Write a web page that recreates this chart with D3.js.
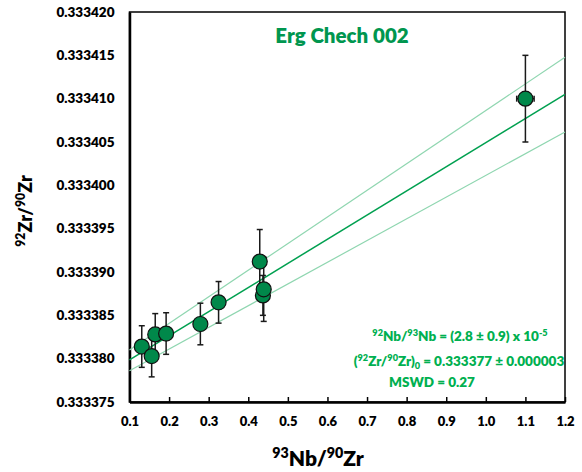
<!DOCTYPE html>
<html>
<head>
<meta charset="utf-8">
<script src="https://cdn.jsdelivr.net/npm/d3@7"></script>
<style>
  body { margin: 0; background: #fff; }
  svg { display: block; font-family: Lato, "Open Sans", sans-serif; font-weight: 800; }
</style>
</head>
<body>
<div id="chart"></div>
<script>
var width = 582;
var height = 472;
var margin = ({top: 12, right: 17, bottom: 70, left: 129.5});

// 93Nb/90Zr and 92Zr/90Zr of the analysed fractions
var nbZr = [0.131, 0.156, 0.165, 0.1925, 0.279, 0.325, 0.429, 0.437, 0.439, 1.10];
var nbErr = [0, 0, 0, 0, 0, 0, 0, 0, 0, 0.022];
var zrZr = [0.3333814, 0.3333803, 0.3333828, 0.3333829, 0.3333840, 0.3333865, 0.3333912, 0.3333873, 0.3333880, 0.3334100];
var zrErr = [0.0000024, 0.0000024, 0.0000024, 0.0000024, 0.0000024, 0.0000024, 0.0000037, 0.0000023, 0.0000037, 0.0000050];

// isochron and its envelope, at the two ends of the x axis
var fitX = [0.1, 1.2];
var fitY = [0.33337985, 0.3334105];
var upperY = [0.3333810, 0.33341477];
var lowerY = [0.3333786, 0.33340615];

var xTicks = [0.1, 0.2, 0.3, 0.4, 0.5, 0.6, 0.7, 0.8, 0.9, 1.0, 1.1, 1.2];
var yTicks = [0.333375, 0.333380, 0.333385, 0.333390, 0.333395, 0.333400, 0.333405, 0.333410, 0.333415, 0.333420];

var title = "Erg Chech 002";
var resultLines = [
  [["92", "sup"], ["Nb/", ""], ["93", "sup"], ["Nb = (2.8 ± 0.9) x 10", ""], ["-5", "sup"]],
  [["(", ""], ["92", "sup"], ["Zr/", ""], ["90", "sup"], ["Zr)", ""], ["0", "sub"], [" = 0.333377 ± 0.000003", ""]],
  [["MSWD = 0.27", ""]]
];

var x = d3.scaleLinear()
  .domain([0.1, 1.2])
  .range([margin.left, width - margin.right]);

var y = d3.scaleLinear()
  .domain([0.333375, 0.333420])
  .range([height - margin.bottom, margin.top]);

var svg = d3.select("#chart").append("svg")
  .attr("width", width)
  .attr("height", height)
  .attr("viewBox", [0, 0, width, height]);

// rich text with super/subscripts
function richText(g, segs, size) {
  var t = g.append("text").attr("font-size", size);
  var shift = 0;
  segs.forEach(function(s) {
    var target = s[1] == "sup" ? -size * 0.38 : s[1] == "sub" ? size * 0.22 : 0;
    t.append("tspan")
      .attr("dy", target - shift)
      .attr("font-size", s[1] ? size * 0.68 : size)
      .text(s[0]);
    shift = target;
  });
  return t;
}

// frame
svg.append("rect")
  .attr("x", margin.left)
  .attr("y", margin.top)
  .attr("width", width - margin.right - margin.left)
  .attr("height", height - margin.bottom - margin.top)
  .attr("fill", "none")
  .attr("stroke", "#000")
  .attr("stroke-width", 1.5);

// x axis, ticks pointing inward
svg.append("g")
  .attr("transform", `translate(0,${height - margin.bottom})`)
  .call(d3.axisBottom(x).tickValues(xTicks).tickSizeInner(-5).tickSizeOuter(0).tickPadding(15).tickFormat(d3.format(".1f")))
  .call(g => g.select(".domain").attr("stroke-width", 2.5))
  .call(g => g.selectAll(".tick line").attr("stroke-width", 1.5))
  .call(g => g.selectAll(".tick text").attr("font-size", 13).attr("font-family", "Lato").attr("font-weight", 800).attr("fill", "#000"));

// y axis, no tick marks
svg.append("g")
  .attr("transform", `translate(${margin.left},0)`)
  .call(d3.axisLeft(y).tickValues(yTicks).tickSize(0).tickPadding(15).tickFormat(d3.format(".6f")))
  .call(g => g.select(".domain").attr("stroke-width", 2.5))
  .call(g => g.selectAll(".tick text").attr("font-size", 13.5).attr("font-family", "Lato").attr("font-weight", 800).attr("fill", "#000"));

// axis titles
richText(svg.append("g"), [["93", "sup"], ["Nb/", ""], ["90", "sup"], ["Zr", ""]], 21)
  .attr("x", 318)
  .attr("y", 466)
  .attr("text-anchor", "middle");

richText(svg.append("g").attr("transform", "translate(32,211) rotate(-90)"),
    [["92", "sup"], ["Zr/", ""], ["90", "sup"], ["Zr", ""]], 18)
  .attr("text-anchor", "middle");

// isochron lines
var line = d3.line()
  .x(d => x(d[0]))
  .y(d => y(d[1]));

svg.append("path")
  .datum(d3.zip(fitX, upperY))
  .attr("fill", "none")
  .attr("stroke", "#8fd6b0")
  .attr("stroke-width", 1.2)
  .attr("d", line);

svg.append("path")
  .datum(d3.zip(fitX, lowerY))
  .attr("fill", "none")
  .attr("stroke", "#8fd6b0")
  .attr("stroke-width", 1.2)
  .attr("d", line);

svg.append("path")
  .datum(d3.zip(fitX, fitY))
  .attr("fill", "none")
  .attr("stroke", "#00a050")
  .attr("stroke-width", 1.5)
  .attr("d", line);

var pts = d3.range(nbZr.length).map(i => ({x: nbZr[i], xe: nbErr[i], y: zrZr[i], ye: zrErr[i]}));

// error bars
var eb = svg.append("g")
  .attr("stroke", "#1a1a1a")
  .attr("stroke-width", 1.5);

pts.forEach(function(d) {
  var cx = x(d.x), cy = y(d.y);
  var y0 = y(d.y - d.ye), y1 = y(d.y + d.ye);
  eb.append("line").attr("x1", cx).attr("x2", cx).attr("y1", y0).attr("y2", y1);
  eb.append("line").attr("x1", cx - 3).attr("x2", cx + 3).attr("y1", y0).attr("y2", y0);
  eb.append("line").attr("x1", cx - 3).attr("x2", cx + 3).attr("y1", y1).attr("y2", y1);
  if (d.xe > 0) {
    var x0 = x(d.x - d.xe), x1 = x(d.x + d.xe);
    eb.append("line").attr("x1", x0).attr("x2", x1).attr("y1", cy).attr("y2", cy);
    eb.append("line").attr("x1", x0).attr("x2", x0).attr("y1", cy - 3).attr("y2", cy + 3);
    eb.append("line").attr("x1", x1).attr("x2", x1).attr("y1", cy - 3).attr("y2", cy + 3);
  }
});

// markers
svg.append("g")
  .selectAll("circle")
  .data(pts)
  .join("circle")
    .attr("cx", d => x(d.x))
    .attr("cy", d => y(d.y))
    .attr("r", 7.5)
    .attr("fill", "#00884a")
    .attr("stroke", "#111")
    .attr("stroke-width", 1.2);

// title
svg.append("text")
  .attr("x", 342)
  .attr("y", 43)
  .attr("text-anchor", "middle")
  .attr("font-size", 20.5)
  .attr("fill", "#00964f")
  .text(title);

// fit results
var resX = [460, 459, 432];
var resY = [341, 366, 387];
resultLines.forEach(function(segs, i) {
  richText(svg.append("g"), segs, 13.5)
    .attr("x", resX[i])
    .attr("y", resY[i])
    .attr("text-anchor", "middle")
    .attr("fill", "#00b050");
});
</script>
</body>
</html>
